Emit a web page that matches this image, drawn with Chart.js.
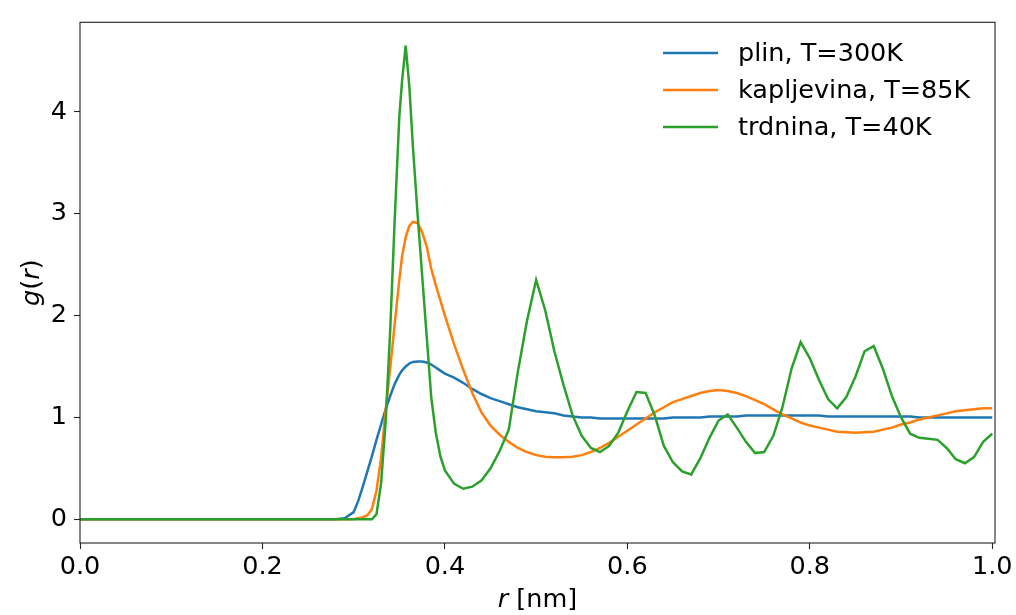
<!DOCTYPE html>
<html>
<head>
<meta charset="utf-8">
<script src="https://cdn.jsdelivr.net/npm/chart.js@4.4.1/dist/chart.umd.min.js"></script>
<style>
  body { margin: 0; background: #fff; }
  #wrap { width: 1016px; height: 615px; }
</style>
</head>
<body>
<div id="wrap"><canvas id="gr" width="1016" height="615"></canvas></div>
<script>
// r [nm]
const r = [
  0.00, 0.01, 0.02, 0.03, 0.04, 0.05, 0.06, 0.07, 0.08, 0.09,
  0.10, 0.11, 0.12, 0.13, 0.14, 0.15, 0.16, 0.17, 0.18, 0.19,
  0.20, 0.21, 0.22, 0.23, 0.24, 0.25, 0.26, 0.27, 0.28, 0.29,
  0.300, 0.305, 0.310, 0.315, 0.320, 0.325, 0.330, 0.335, 0.340, 0.345,
  0.350, 0.353, 0.357, 0.361, 0.365, 0.370, 0.375, 0.380, 0.385, 0.390,
  0.395, 0.400,
  0.41, 0.42, 0.43, 0.44, 0.45, 0.46, 0.47, 0.48, 0.49, 0.50,
  0.51, 0.52, 0.53, 0.54, 0.55, 0.56, 0.57, 0.58, 0.59, 0.60,
  0.61, 0.62, 0.63, 0.64, 0.65, 0.66, 0.67, 0.68, 0.69, 0.70,
  0.71, 0.72, 0.73, 0.74, 0.75, 0.76, 0.77, 0.78, 0.79, 0.80,
  0.81, 0.82, 0.83, 0.84, 0.85, 0.86, 0.87, 0.88, 0.89, 0.90,
  0.91, 0.92, 0.93, 0.94, 0.95, 0.96, 0.97, 0.98, 0.99, 1.00
];

// plin, T=300K
const plin = [
  0, 0, 0, 0, 0, 0, 0, 0, 0, 0,
  0, 0, 0, 0, 0, 0, 0, 0, 0, 0,
  0, 0, 0, 0, 0, 0, 0, 0, 0, 0.01,
  0.07, 0.18, 0.32, 0.47, 0.62, 0.78, 0.93, 1.08, 1.21, 1.33,
  1.42, 1.46, 1.50, 1.53, 1.545, 1.55, 1.55, 1.54, 1.52, 1.49,
  1.46, 1.43,
  1.39, 1.34, 1.28, 1.23, 1.19, 1.16, 1.13, 1.10, 1.08, 1.06,
  1.05, 1.04, 1.02, 1.01, 1.00, 1.00, 0.99, 0.99, 0.99, 0.99,
  0.99, 0.99, 0.99, 0.99, 1.00, 1.00, 1.00, 1.00, 1.01, 1.01,
  1.01, 1.01, 1.02, 1.02, 1.02, 1.02, 1.02, 1.02, 1.02, 1.02,
  1.02, 1.01, 1.01, 1.01, 1.01, 1.01, 1.01, 1.01, 1.01, 1.01,
  1.01, 1.00, 1.00, 1.00, 1.00, 1.00, 1.00, 1.00, 1.00, 1.00
];

// kapljevina, T=85K
const kapljevina = [
  0, 0, 0, 0, 0, 0, 0, 0, 0, 0,
  0, 0, 0, 0, 0, 0, 0, 0, 0, 0,
  0, 0, 0, 0, 0, 0, 0, 0, 0, 0,
  0, 0.01, 0.02, 0.04, 0.10, 0.28, 0.60, 1.07, 1.48, 1.92,
  2.35, 2.58, 2.77, 2.88, 2.92, 2.91, 2.82, 2.68, 2.46, 2.30,
  2.15, 2.00,
  1.72, 1.47, 1.24, 1.05, 0.92, 0.83, 0.76, 0.70, 0.66, 0.63,
  0.615, 0.61, 0.61, 0.615, 0.63, 0.66, 0.70, 0.75, 0.81, 0.87,
  0.93, 0.99, 1.05, 1.10, 1.15, 1.18, 1.21, 1.24, 1.26, 1.27,
  1.26, 1.24, 1.21, 1.17, 1.13, 1.08, 1.03, 0.99, 0.95, 0.92,
  0.90, 0.88, 0.86, 0.855, 0.85, 0.855, 0.86, 0.88, 0.90, 0.93,
  0.95, 0.98, 1.00, 1.02, 1.04, 1.06, 1.07, 1.08, 1.09, 1.09
];

// trdnina, T=40K
const trdnina = [
  0, 0, 0, 0, 0, 0, 0, 0, 0, 0,
  0, 0, 0, 0, 0, 0, 0, 0, 0, 0,
  0, 0, 0, 0, 0, 0, 0, 0, 0, 0,
  0, 0, 0, 0, 0, 0.05, 0.35, 0.95, 1.85, 2.95,
  3.95, 4.30, 4.65, 4.25, 3.65, 3.00, 2.40, 1.80, 1.20, 0.85,
  0.62, 0.48,
  0.35, 0.30, 0.32, 0.38, 0.50, 0.67, 0.88, 1.45, 1.95, 2.35,
  2.05, 1.65, 1.32, 1.02, 0.82, 0.70, 0.66, 0.72, 0.85, 1.06,
  1.25, 1.24, 1.02, 0.72, 0.56, 0.47, 0.44, 0.60, 0.80, 0.97,
  1.03, 0.90, 0.76, 0.65, 0.66, 0.82, 1.10, 1.48, 1.74, 1.58,
  1.37, 1.18, 1.09, 1.20, 1.40, 1.65, 1.70, 1.48, 1.21, 1.00,
  0.84, 0.80, 0.79, 0.78, 0.70, 0.59, 0.55, 0.61, 0.76, 0.84
];

const seriesNames = ['plin, T=300K', 'kapljevina, T=85K', 'trdnina, T=40K'];
const seriesColors = ['#1f77b4', '#ff7f0e', '#2ca02c'];
const xTicks = [0, 0.2, 0.4, 0.6, 0.8, 1.0];
const yTicks = [0, 1, 2, 3, 4];

const FONT = 'DejaVu Sans';
const FSIZE = 25.5;

function pts(vals) {
  return r.map((x, i) => ({ x: x, y: vals[i] }));
}

// frame, axis titles, legend (matplotlib style)
const decor = {
  id: 'decor',
  afterDraw(chart) {
    const ctx = chart.ctx;
    const a = chart.chartArea;
    ctx.save();
    ctx.strokeStyle = '#222';
    ctx.lineWidth = 1.1;
    ctx.strokeRect(a.left, a.top, a.right - a.left, a.bottom - a.top);

    // x title: r [nm]
    ctx.fillStyle = '#000';
    ctx.textBaseline = 'alphabetic';
    const fi = 'oblique ' + FSIZE + 'px ' + FONT;
    const fn = FSIZE + 'px ' + FONT;
    ctx.font = fi; const w1 = ctx.measureText('r').width;
    ctx.font = fn; const w2 = ctx.measureText(' [nm]').width;
    let x0 = (a.left + a.right) / 2 - (w1 + w2) / 2;
    ctx.font = fi; ctx.fillText('r', x0, 607);
    ctx.font = fn; ctx.fillText(' [nm]', x0 + w1, 607);

    // y title: g(r)
    ctx.save();
    ctx.translate(39, (a.top + a.bottom) / 2);
    ctx.rotate(-Math.PI / 2);
    const parts = [['g', fi], ['(', fn], ['r', fi], [')', fn]];
    let tw = 0;
    parts.forEach(p => { ctx.font = p[1]; tw += ctx.measureText(p[0]).width; });
    let px = -tw / 2;
    parts.forEach(p => { ctx.font = p[1]; ctx.fillText(p[0], px, 0); px += ctx.measureText(p[0]).width; });
    ctx.restore();

    // legend
    ctx.font = fn;
    ctx.textBaseline = 'middle';
    ctx.lineWidth = 2.5;
    seriesNames.forEach((name, i) => {
      const y = 53 + i * 37;
      ctx.strokeStyle = seriesColors[i];
      ctx.beginPath();
      ctx.moveTo(663, y);
      ctx.lineTo(718, y);
      ctx.stroke();
      ctx.fillStyle = '#000';
      ctx.fillText(name, 738, y + 1);
    });
    ctx.restore();
  }
};

const ctx = document.getElementById('gr');
const chart = new Chart(ctx, {
  type: 'line',
  data: {
    datasets: [
      { label: seriesNames[0], data: pts(plin), borderColor: seriesColors[0], order: 2 },
      { label: seriesNames[1], data: pts(kapljevina), borderColor: seriesColors[1], order: 1 },
      { label: seriesNames[2], data: pts(trdnina), borderColor: seriesColors[2], order: 0 }
    ]
  },
  options: {
    responsive: false,
    animation: false,
    layout: { padding: { left: 0, right: 21, top: 18, bottom: 0 } },
    elements: {
      point: { radius: 0 },
      line: { borderWidth: 2.5, tension: 0, fill: false }
    },
    plugins: {
      legend: { display: false },
      tooltip: { enabled: false }
    },
    scales: {
      x: {
        type: 'linear',
        min: 0,
        max: 1.003,
        afterBuildTicks: s => { s.ticks = xTicks.map(v => ({ value: v })); },
        afterFit: s => { s.height = 72; },
        border: { display: false },
        grid: { drawOnChartArea: false, drawTicks: true, tickLength: 6, tickColor: '#222', tickWidth: 1.1 },
        ticks: {
          color: '#000',
          padding: 3,
          maxRotation: 0,
          font: { family: FONT, size: FSIZE },
          callback: v => v.toFixed(1)
        }
      },
      y: {
        type: 'linear',
        min: -0.233,
        max: 4.88,
        afterBuildTicks: s => { s.ticks = yTicks.map(v => ({ value: v })); },
        afterFit: s => { s.width = 80; },
        border: { display: false },
        grid: { drawOnChartArea: false, drawTicks: true, tickLength: 6, tickColor: '#222', tickWidth: 1.1 },
        ticks: {
          color: '#000',
          padding: 7,
          font: { family: FONT, size: FSIZE },
          callback: v => String(v)
        }
      }
    }
  },
  plugins: [decor]
});
</script>
</body>
</html>
